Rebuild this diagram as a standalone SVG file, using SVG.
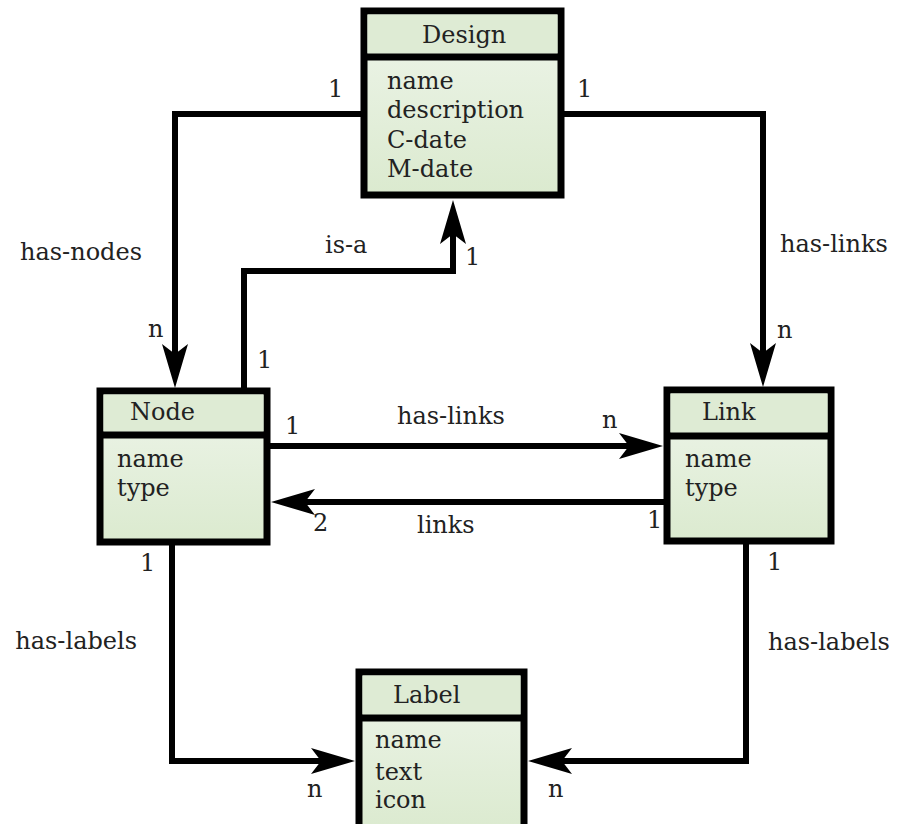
<svg xmlns="http://www.w3.org/2000/svg" width="897" height="824" viewBox="0 0 897 824">
<style>
  text { font-family: "DejaVu Serif", "Liberation Serif", serif; font-size: 24px; fill: #222; }
  .box { fill: url(#body); stroke: #000; stroke-width: 7; }
  .hdr { fill: #deebd4; }
  .div { stroke: #000; stroke-width: 7; }
  .conn { fill: none; stroke: #000; stroke-width: 6; stroke-linejoin: miter; }
</style>
<defs>
  <linearGradient id="body" x1="0" y1="0" x2="0" y2="1">
    <stop offset="0" stop-color="#eef5ea"/>
    <stop offset="1" stop-color="#dbeacf"/>
  </linearGradient>
  <marker id="arr" markerUnits="userSpaceOnUse" markerWidth="44" markerHeight="26" refX="10" refY="13" orient="auto" overflow="visible">
    <path d="M0,0 L44,13 L0,26 L10,13 Z" fill="#000"/>
  </marker>
</defs>
<rect width="897" height="824" fill="#fff"/>

<g id="connectors">
  <path class="conn" d="M364,114 H175 V354" marker-end="url(#arr)"/>
  <path class="conn" d="M561,114 H763 V353" marker-end="url(#arr)"/>
  <path class="conn" d="M244,391 V271 H453 V234" marker-end="url(#arr)"/>
  <path class="conn" d="M267,446 H629" marker-end="url(#arr)"/>
  <path class="conn" d="M667,502 H305" marker-end="url(#arr)"/>
  <path class="conn" d="M172,542 V761 H321" marker-end="url(#arr)"/>
  <path class="conn" d="M746,541 V761 H562" marker-end="url(#arr)"/>
</g>

<g id="connector-labels">
  <text x="328" y="97">1</text>
  <text x="577" y="97">1</text>
  <text x="20" y="260">has-nodes</text>
  <text x="148" y="337">n</text>
  <text x="325" y="253">is-a</text>
  <text x="465" y="265">1</text>
  <text x="257" y="368">1</text>
  <text x="780" y="252">has-links</text>
  <text x="777" y="338">n</text>
  <text x="285" y="434">1</text>
  <text x="397" y="424">has-links</text>
  <text x="602" y="428">n</text>
  <text x="313" y="531">2</text>
  <text x="417" y="533">links</text>
  <text x="647" y="528">1</text>
  <text x="140" y="571">1</text>
  <text x="137" y="649" text-anchor="end">has-labels</text>
  <text x="767" y="570">1</text>
  <text x="768" y="650">has-labels</text>
  <text x="307" y="797">n</text>
  <text x="548" y="797">n</text>
</g>

<g id="node-design">
  <rect class="box" x="364" y="11" width="197" height="184"/>
  <rect class="hdr" x="367.5" y="14.5" width="190" height="39"/>
  <line class="div" x1="364" y1="57" x2="561" y2="57"/>
  <text x="422" y="43">Design</text>
  <text x="387" y="89">name</text>
  <text x="387" y="118">description</text>
  <text x="387" y="148">C-date</text>
  <text x="387" y="177">M-date</text>
</g>

<g id="node-node">
  <rect class="box" x="100" y="391" width="167" height="151"/>
  <rect class="hdr" x="103.5" y="394.5" width="160" height="37"/>
  <line class="div" x1="100" y1="435" x2="267" y2="435"/>
  <text x="130" y="420">Node</text>
  <text x="117" y="467">name</text>
  <text x="117" y="496">type</text>
</g>

<g id="node-link">
  <rect class="box" x="667" y="390" width="164" height="151"/>
  <rect class="hdr" x="670.5" y="393.5" width="157" height="39"/>
  <line class="div" x1="667" y1="436" x2="831" y2="436"/>
  <text x="702" y="420">Link</text>
  <text x="685" y="467">name</text>
  <text x="685" y="496">type</text>
</g>

<g id="node-label">
  <rect class="box" x="359" y="672" width="165" height="160"/>
  <rect class="hdr" x="362.5" y="675.5" width="158" height="39"/>
  <line class="div" x1="359" y1="718" x2="524" y2="718"/>
  <text x="393" y="703">Label</text>
  <text x="375" y="748">name</text>
  <text x="375" y="780">text</text>
  <text x="375" y="808">icon</text>
</g>
</svg>
